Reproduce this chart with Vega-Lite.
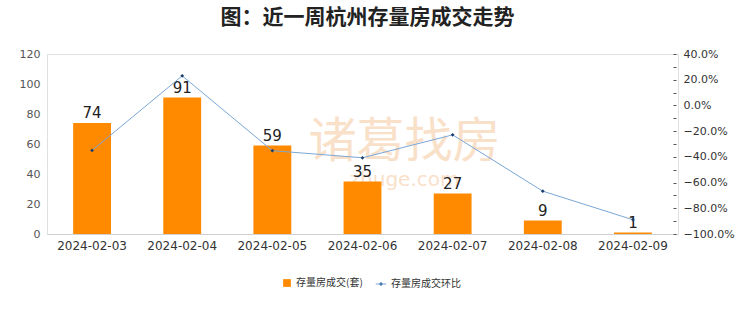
{
  "$schema": "https://vega.github.io/schema/vega-lite/v6.json",
  "autosize": {"type": "none"},
  "width": 631,
  "height": 180,
  "padding": {"left": 47, "top": 54, "right": 62, "bottom": 78},
  "background": "#ffffff",
  "title": {
    "text": "图：近一周杭州存量房成交走势",
    "font": "Noto Sans CJK SC",
    "fontSize": 21,
    "fontWeight": "bold",
    "color": "#222222",
    "anchor": "middle",
    "offset": 20,
    "dx": 5
  },
  "data": {
    "values": [
      {"date": "2024-02-03", "count": 74, "pct": -0.35},
      {"date": "2024-02-04", "count": 91, "pct": 0.23},
      {"date": "2024-02-05", "count": 59, "pct": -0.352},
      {"date": "2024-02-06", "count": 35, "pct": -0.407},
      {"date": "2024-02-07", "count": 27, "pct": -0.229},
      {"date": "2024-02-08", "count": 9, "pct": -0.667},
      {"date": "2024-02-09", "count": 1, "pct": -0.889}
    ]
  },
  "encoding": {
    "x": {
      "field": "date",
      "type": "nominal",
      "sort": null,
      "scale": {
        "domain": ["2024-02-03", "2024-02-04", "2024-02-05", "2024-02-06", "2024-02-07", "2024-02-08", "2024-02-09"],
        "paddingInner": 0.58,
        "paddingOuter": 0.29
      },
      "axis": {
        "title": null,
        "labelAngle": 0,
        "ticks": false,
        "labelPadding": 6,
        "labelFontSize": 12,
        "labelColor": "#333333",
        "labelFont": "DejaVu Sans",
        "labelOverlap": false,
        "domainColor": "#d0d0d0"
      }
    }
  },
  "layer": [
    {
      "layer": [
        {
          "mark": {"type": "text", "font": "Noto Sans CJK SC", "fontSize": 48, "fontWeight": "normal", "color": "#f8d6b8", "opacity": 0.75, "dx": 42, "baseline": "middle"},
          "encoding": {
            "x": {"datum": "2024-02-06"},
            "y": {"datum": 61},
            "text": {"value": "诸葛找房"}
          },
          "data": {"values": [{"wm": 1}]}
        },
        {
          "mark": {"type": "text", "font": "DejaVu Sans", "fontSize": 20, "color": "#f8d6b8", "opacity": 0.75, "dx": 42, "baseline": "middle", "letterSpacing": 10},
          "encoding": {
            "x": {"datum": "2024-02-06"},
            "y": {"datum": 36},
            "text": {"value": "zhuge.com"}
          },
          "data": {"values": [{"wm": 1}]}
        },
        {
          "mark": {"type": "bar"},
          "encoding": {
            "y": {
              "field": "count",
              "type": "quantitative",
              "scale": {"domain": [0, 120]},
              "axis": {
                "orient": "left",
                "title": null,
                "values": [0, 20, 40, 60, 80, 100, 120],
                "tickCount": 20,
                "ticks": false,
                "domain": false,
                "labelOverlap": false,
                "labelPadding": 7,
                "labelFontSize": 11,
                "labelColor": "#555555",
                "labelFont": "DejaVu Sans",
                "gridColor": "#e6e6e6"
              }
            },
            "fill": {
              "datum": "存量房成交(套)",
              "scale": {"range": ["#FF8A00"]},
              "legend": {
                "orient": "none",
                "legendX": 235,
                "legendY": 224,
                "title": null,
                "padding": 0,
                "symbolType": "square",
                "symbolSize": 60,
                "labelFontSize": 10,
                "labelFont": "Noto Sans CJK SC",
                "labelColor": "#333333"
              }
            }
          }
        },
        {
          "mark": {"type": "text", "dy": -2, "fontSize": 15, "color": "#222222", "font": "DejaVu Sans", "baseline": "bottom"},
          "encoding": {
            "y": {"field": "count", "type": "quantitative"},
            "text": {"field": "count", "type": "quantitative"}
          }
        }
      ]
    },
    {
      "layer": [
        {
          "mark": {"type": "line", "strokeWidth": 1},
          "encoding": {
            "y": {
              "field": "pct",
              "type": "quantitative",
              "scale": {"domain": [-1, 0.4]},
              "axis": {
                "orient": "right",
                "title": null,
                "values": [-1, -0.9, -0.8, -0.7, -0.6, -0.5, -0.4, -0.3, -0.2, -0.1, 0, 0.1, 0.2, 0.3, 0.4],
                "tickCount": 30,
                "labelExpr": "abs(round(datum.value*10)) % 2 == 0 ? format(datum.value, '.1%') : ''",
                "labelOverlap": false,
                "grid": false,
                "domain": false,
                "offset": -5,
                "tickSize": 3,
                "tickColor": "#555555",
                "labelPadding": 7,
                "labelFontSize": 11,
                "labelColor": "#333333",
                "labelFont": "DejaVu Sans"
              }
            },
            "stroke": {
              "datum": "存量房成交环比",
              "scale": {"range": ["#7BA7D7"]},
              "legend": {
                "orient": "none",
                "legendX": 328,
                "legendY": 224,
                "title": null,
                "padding": 0,
                "symbolType": "M-1,0H1M0,-0.35L0.35,0L0,0.35L-0.35,0Z",
                "symbolSize": 110,
                "symbolStrokeWidth": 1,
                "symbolFillColor": "#1d3f6e",
                "labelFontSize": 10,
                "labelFont": "Noto Sans CJK SC",
                "labelColor": "#333333"
              }
            }
          }
        },
        {
          "mark": {"type": "point", "shape": "diamond", "filled": true, "size": 14, "color": "#1d3f6e", "opacity": 1},
          "encoding": {
            "y": {"field": "pct", "type": "quantitative"}
          }
        }
      ]
    }
  ],
  "resolve": {"scale": {"y": "independent"}, "axis": {"y": "independent"}},
  "config": {
    "view": {"stroke": "#e0e0e0"}
  }
}
